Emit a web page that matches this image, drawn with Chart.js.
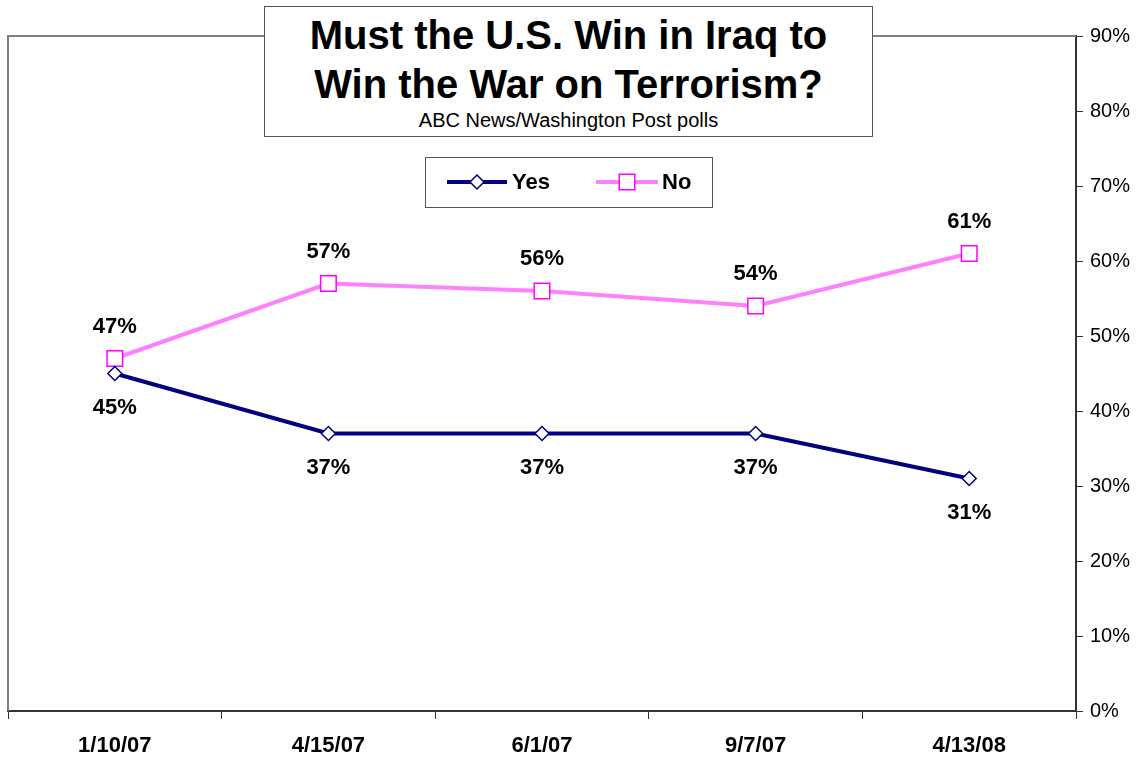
<!DOCTYPE html>
<html>
<head>
<meta charset="utf-8">
<script src="https://cdn.jsdelivr.net/npm/chart.js@4/dist/chart.umd.min.js"></script>
<style>
  body { margin: 0; background: #fff; }
  #wrap { position: relative; width: 1136px; height: 757px; font-family: Arial, "Liberation Sans", sans-serif; }
  #titleBox {
    position: absolute; left: 264px; top: 6px; width: 607px; height: 129px;
    border: 1px solid #555; background: #fff; text-align: center; color: #000;
  }
  #titleBox .main { font-weight: bold; font-size: 40px; line-height: 49px; margin-top: 4px; }
  #titleBox .sub { font-size: 20px; line-height: 22px; margin-top: 0px; }
</style>
</head>
<body>
<div id="wrap">
  <canvas id="pollChart" width="1136" height="757"></canvas>
  <div id="titleBox">
    <div class="main">Must the U.S. Win in Iraq to<br>Win the War on Terrorism?</div>
    <div class="sub">ABC News/Washington Post polls</div>
  </div>
</div>
<script>
// poll dates and results
const dates = ['1/10/07', '4/15/07', '6/1/07', '9/7/07', '4/13/08'];
const yesValues = [45, 37, 37, 37, 31];
const noValues = [47, 57, 56, 54, 61];

// plot frame: gray top + left border
const frameLines = {
    id: 'frameLines',
    beforeDatasetsDraw(chart) {
        const { ctx, chartArea: a } = chart;
        ctx.save();
        ctx.strokeStyle = '#808080';
        ctx.lineWidth = 2;
        ctx.beginPath();
        ctx.moveTo(a.left, a.bottom);
        ctx.lineTo(a.left, a.top);
        ctx.lineTo(a.right, a.top);
        ctx.stroke();
        ctx.restore();
    }
};

// value labels, Yes below the point, No above
const valueLabels = {
    id: 'valueLabels',
    afterDatasetsDraw(chart) {
        const ctx = chart.ctx;
        ctx.save();
        ctx.font = 'bold 22px Arial, "Liberation Sans", sans-serif';
        ctx.fillStyle = '#000';
        ctx.textAlign = 'center';
        ctx.textBaseline = 'middle';
        chart.data.datasets.forEach((ds, i) => {
            const meta = chart.getDatasetMeta(i);
            meta.data.forEach((pt, j) => {
                const dy = ds.label === 'Yes' ? 34 : -32;
                ctx.fillText(ds.data[j] + '%', pt.x, pt.y + dy);
            });
        });
        ctx.restore();
    }
};

// boxed legend drawn over the plot
const boxLegend = {
    id: 'boxLegend',
    afterDraw(chart) {
        const ctx = chart.ctx;
        ctx.save();
        ctx.fillStyle = '#fff';
        ctx.fillRect(425, 157, 288, 51);
        ctx.strokeStyle = '#555';
        ctx.lineWidth = 1;
        ctx.strokeRect(425.5, 157.5, 287, 50);
        const items = [
            { x0: 447, x1: 507, tx: 512 },
            { x0: 596, x1: 658, tx: 662 }
        ];
        chart.data.datasets.forEach((ds, i) => {
            const it = items[i];
            const y = 182;
            ctx.strokeStyle = ds.borderColor;
            ctx.lineWidth = ds.borderWidth;
            ctx.beginPath();
            ctx.moveTo(it.x0, y);
            ctx.lineTo(it.x1, y);
            ctx.stroke();
            ctx.fillStyle = ds.pointBackgroundColor;
            ctx.strokeStyle = ds.pointBorderColor;
            ctx.lineWidth = ds.pointBorderWidth;
            Chart.helpers.drawPoint(ctx, {
                pointStyle: ds.pointStyle, radius: ds.pointRadius, rotation: 0, borderWidth: ds.pointBorderWidth
            }, (it.x0 + it.x1) / 2, y);
            ctx.fillStyle = '#000';
            ctx.font = 'bold 22px Arial, "Liberation Sans", sans-serif';
            ctx.textAlign = 'left';
            ctx.textBaseline = 'middle';
            ctx.fillText(ds.label, it.tx, y + 1);
        });
        ctx.restore();
    }
};

new Chart(document.getElementById('pollChart'), {
    type: 'line',
    data: {
        labels: dates,
        datasets: [{
            label: 'Yes',
            data: yesValues,
            borderColor: '#000080',
            borderWidth: 4,
            pointStyle: 'rectRot',
            pointRadius: 7,
            pointBackgroundColor: '#fff',
            pointBorderColor: '#000080',
            pointBorderWidth: 1.5,
            tension: 0
        }, {
            label: 'No',
            data: noValues,
            borderColor: '#FF80FF',
            borderWidth: 4,
            pointStyle: 'rect',
            pointRadius: 11,
            pointBackgroundColor: '#fff',
            pointBorderColor: '#FF00FF',
            pointBorderWidth: 1.5,
            tension: 0
        }]
    },
    options: {
        responsive: false,
        animation: false,
        layout: { autoPadding: false, padding: { left: 8, top: 36, right: 0, bottom: 0 } },
        plugins: {
            legend: { display: false },
            title: { display: false },
            tooltip: { enabled: false }
        },
        scales: {
            x: {
                offset: true,
                grid: { offset: true, drawOnChartArea: false, drawTicks: true, tickLength: 8, color: '#333', lineWidth: 1 },
                border: { color: '#333', width: 2 },
                ticks: {
                    color: '#000',
                    font: { family: 'Arial, "Liberation Sans", sans-serif', size: 22, weight: 'bold' },
                    padding: 14,
                    maxRotation: 0
                },
                afterFit(scale) {
                    scale.height = 46;
                    scale.paddingLeft = 0;
                    scale.paddingRight = 0;
                }
            },
            y: {
                position: 'right',
                min: 0,
                max: 90,
                grid: { drawOnChartArea: false, drawTicks: true, tickLength: 7, color: '#333', lineWidth: 1 },
                border: { color: '#333', width: 2 },
                ticks: {
                    stepSize: 10,
                    color: '#000',
                    font: { family: 'Arial, "Liberation Sans", sans-serif', size: 20 },
                    padding: 7,
                    callback: v => v + '%'
                },
                afterFit(scale) { scale.width = 60; }
            }
        }
    },
    plugins: [frameLines, valueLabels, boxLegend]
});
</script>
</body>
</html>
